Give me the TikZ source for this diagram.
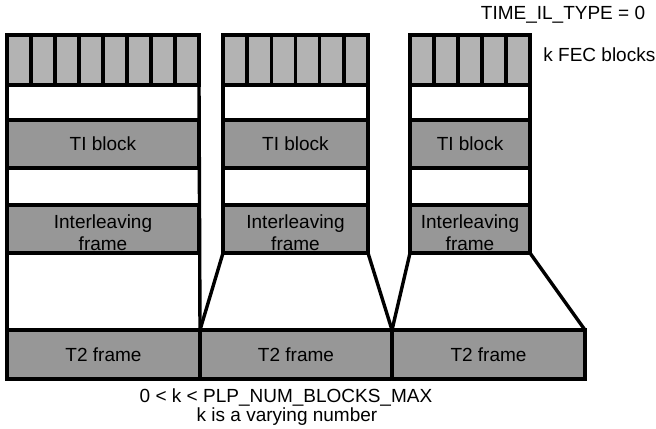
\documentclass[tikz,border=0pt]{standalone}
\usepackage{fontspec}
\setmainfont{Liberation Sans}
\usetikzlibrary{calc}
\definecolor{fecgray}{RGB}{179,179,179}
\definecolor{blkgray}{RGB}{151,151,151}
\tikzset{
  box/.style={draw=black, line width=1.7pt, anchor=north west, inner sep=0pt, outer sep=0pt, align=center, font=\fontsize{9.5pt}{11.5pt}\selectfont},
  fecrow/.style={box, fill=fecgray, minimum height=25pt},
  blk/.style={box, fill=blkgray, minimum height=24pt},
  ilbox/.style={blk, label={[inner sep=0pt, align=center, yshift=-2pt, font=\fontsize{9.5pt}{11pt}\selectfont]center:Interleaving\\frame}},
  tf/.style={box, fill=blkgray, minimum height=24.5pt},
  edge/.style={draw=black, line width=1.7pt},
  lbl/.style={inner sep=0pt, font=\fontsize{9.5pt}{11pt}\selectfont}
}
\begin{document}
\begin{tikzpicture}[x=0.5pt, y=-0.5pt]
\useasboundingbox (0,0) rectangle (656,428);
% column 1
\node[fecrow, minimum width=96pt] (fec1) at (7,35) {};
\node[blk, minimum width=96pt] (ti1) at (7,120) {TI block};
\node[ilbox, minimum width=96pt] (il1) at (7,205) {};
% column 2
\node[fecrow, minimum width=72.5pt] (fec2) at (223,35) {};
\node[blk, minimum width=72.5pt] (ti2) at (223,120) {TI block};
\node[ilbox, minimum width=72.5pt] (il2) at (223,205) {};
% column 3
\node[fecrow, minimum width=60pt] (fec3) at (410,35) {};
\node[blk, minimum width=60pt] (ti3) at (410,120) {TI block};
\node[ilbox, minimum width=60pt] (il3) at (410,205) {};
% T2 frames
\node[tf, minimum width=96.5pt] (t2a) at (7,330) {T2 frame};
\node[tf, minimum width=96pt] (t2b) at (200,330) {T2 frame};
\node[tf, minimum width=96.5pt] (t2c) at (392,330) {T2 frame};
% FEC block dividers
\foreach \i in {1,...,7} \draw[edge] ($(fec1.north west)!\i/8!(fec1.north east)$) -- ($(fec1.south west)!\i/8!(fec1.south east)$);
\foreach \i in {1,...,5} \draw[edge] ($(fec2.north west)!\i/6!(fec2.north east)$) -- ($(fec2.south west)!\i/6!(fec2.south east)$);
\foreach \i in {1,...,4} \draw[edge] ($(fec3.north west)!\i/5!(fec3.north east)$) -- ($(fec3.south west)!\i/5!(fec3.south east)$);
% column side lines
\draw[edge] (fec1.south west) -- (t2a.north west);
\draw[edge] (fec1.south east) -- (t2a.north east);
\draw[edge] (fec2.south west) -- (il2.north west);
\draw[edge] (fec2.south east) -- (il2.north east);
\draw[edge] (fec3.south west) -- (il3.north west);
\draw[edge] (fec3.south east) -- (il3.north east);
% diagonals
\draw[edge] (il2.south west) -- (t2b.north west);
\draw[edge] (il2.south east) -- (t2c.north west);
\draw[edge] (il3.south west) -- (t2c.north west);
\draw[edge] (il3.south east) -- (t2c.north east);
% labels
\node[lbl] (type) at (563,15) {TIME\_IL\_TYPE = 0};
\node[lbl, anchor=west] (kfec) at (543,55) {k FEC blocks};
\node[lbl] (cond) at (286,397) {0 < k < PLP\_NUM\_BLOCKS\_MAX};
\node[lbl] (vary) at (287,417) {k is a varying number};
\end{tikzpicture}
\end{document}
